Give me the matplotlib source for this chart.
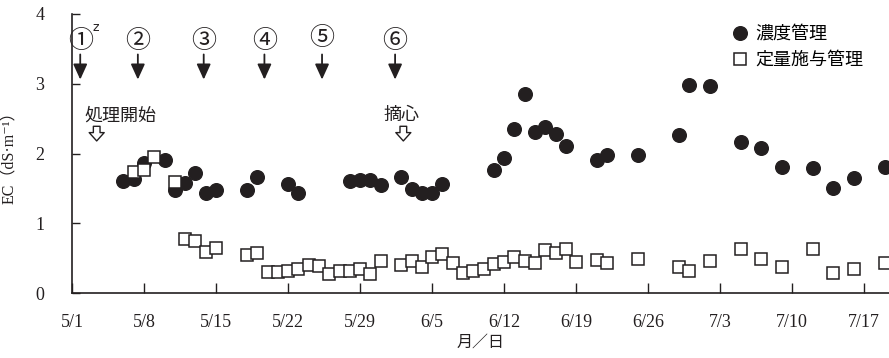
import numpy as np
import pandas as pd
import matplotlib
matplotlib.use("Agg")
import matplotlib.pyplot as plt
from matplotlib.lines import Line2D

FONT = ["Liberation Serif", "DejaVu Serif", "Noto Sans CJK JP"]
plt.rcParams["font.family"] = FONT

START = "2020-05-01"

# 濃度管理 (filled circles)
conc_dates = ["5/6", "5/7", "5/8", "5/10", "5/11", "5/12", "5/13", "5/14", "5/15",
              "5/18", "5/19", "5/22", "5/23", "5/28", "5/29", "5/30", "5/31",
              "6/2", "6/3", "6/4", "6/5", "6/6", "6/11", "6/12", "6/13", "6/14",
              "6/15", "6/16", "6/17", "6/18", "6/21", "6/22", "6/25", "6/29",
              "6/30", "7/2", "7/5", "7/7", "7/9", "7/12", "7/14", "7/16", "7/19"]
conc_ec = [1.60, 1.63, 1.87, 1.90, 1.48, 1.58, 1.72, 1.43, 1.47,
           1.47, 1.66, 1.56, 1.43, 1.61, 1.62, 1.62, 1.55,
           1.67, 1.49, 1.43, 1.43, 1.56, 1.76, 1.93, 2.35, 2.86,
           2.31, 2.38, 2.28, 2.11, 1.90, 1.98, 1.98, 2.26,
           2.98, 2.97, 2.17, 2.08, 1.81, 1.79, 1.50, 1.65, 1.81]

# 定量施与管理 (open squares)
fix_dates = ["5/7", "5/8", "5/9", "5/11", "5/12", "5/13", "5/14", "5/15",
             "5/18", "5/19", "5/20", "5/21", "5/22", "5/23", "5/24", "5/25",
             "5/26", "5/27", "5/28", "5/29", "5/30", "5/31",
             "6/2", "6/3", "6/4", "6/5", "6/6", "6/7", "6/8", "6/9", "6/10",
             "6/11", "6/12", "6/13", "6/14", "6/15", "6/16", "6/17", "6/18",
             "6/19", "6/21", "6/22", "6/25", "6/29", "6/30", "7/2", "7/5",
             "7/7", "7/9", "7/12", "7/14", "7/16", "7/19"]
fix_ec = [1.73, 1.77, 1.95, 1.59, 0.78, 0.74, 0.59, 0.64,
          0.545, 0.58, 0.30, 0.30, 0.32, 0.35, 0.40, 0.38,
          0.27, 0.32, 0.31, 0.34, 0.27, 0.46,
          0.40, 0.46, 0.37, 0.51, 0.56, 0.43, 0.28, 0.32, 0.35,
          0.41, 0.44, 0.51, 0.46, 0.43, 0.61, 0.57, 0.63,
          0.44, 0.47, 0.43, 0.49, 0.37, 0.32, 0.46, 0.63,
          0.49, 0.37, 0.63, 0.28, 0.35, 0.43]

tick_labels = ["5/1", "5/8", "5/15", "5/22", "5/29", "6/5", "6/12",
               "6/19", "6/26", "7/3", "7/10", "7/17"]

# fertilisation events ①-⑥ (days after 5/1)
event_labels = ["①", "②", "③", "④", "⑤", "⑥"]
event_days = [0.8, 6.4, 12.8, 18.7, 24.3, 31.4]

start_day = 2.4     # 処理開始
pinch_day = 32.2    # 摘心


def to_days(labels):
    d = pd.to_datetime(["2020/" + s for s in labels], format="%Y/%m/%d")
    return np.asarray((d - pd.Timestamp(START)).days, dtype=float)


def main() -> None:
    fig = plt.figure(figsize=(8.89, 3.58), dpi=100)
    ax = fig.add_axes([72 / 889, 1 - 293 / 358, 817 / 889, 279 / 358])
    ink = "#231f20"

    ax.plot(to_days(conc_dates), conc_ec, "o", ms=9.8, color=ink, zorder=3)
    ax.plot(to_days(fix_dates), fix_ec, "s", ms=8, mfc="white", mec=ink,
            mew=1.1, zorder=4)

    ax.set_xlim(0, 79.4)
    ax.set_ylim(0, 4)
    ax.set_xticks(to_days(tick_labels))
    ax.set_xticklabels(tick_labels)
    ax.set_yticks([0, 1, 2, 3, 4])
    ax.tick_params(axis="x", direction="in", length=7, width=1, pad=15,
                   labelsize=13, colors=ink)
    ax.tick_params(axis="y", direction="in", length=6, width=1, pad=20,
                   labelsize=13, colors=ink)
    for side in ("top", "right"):
        ax.spines[side].set_visible(False)
    for side in ("left", "bottom"):
        ax.spines[side].set_linewidth(1.2)
        ax.spines[side].set_color(ink)

    ax.set_xlabel("月／日", fontsize=11.5, color=ink, labelpad=2,
                  family=["Noto Sans CJK JP"])
    ax.set_ylabel("EC（dS·m⁻¹）", fontsize=11.5, color=ink, labelpad=12)

    # event markers with filled arrows
    for lab, d in zip(event_labels, event_days):
        y_lab = 3.66 if lab == "⑤" else 3.61
        ax.text(d, y_lab, lab, ha="center", va="center", fontsize=18,
                color=ink, family=["Noto Sans CJK JP"])
        ax.annotate("", xy=(d, 3.06), xytext=(d, 3.42),
                    arrowprops=dict(arrowstyle="-|>,head_length=0.55,head_width=0.25",
                                    mutation_scale=17, color=ink, lw=1.3,
                                    shrinkA=0, shrinkB=0))
    ax.text(event_days[0] + 1.55, 3.8, "z", ha="center", va="center",
            fontsize=9, color=ink, family=["DejaVu Sans"])

    # 処理開始 / 摘心 with hollow arrows
    ax.text(start_day - 1.2, 2.55, "処理開始", ha="left", va="center",
            fontsize=13, color=ink, family=["Noto Sans CJK JP"])
    ax.text(pinch_day - 1.9, 2.55, "摘心", ha="left", va="center",
            fontsize=13, color=ink, family=["Noto Sans CJK JP"])
    for d in (start_day, pinch_day):
        ax.annotate("", xy=(d, 2.18), xytext=(d, 2.39),
                    arrowprops=dict(arrowstyle="simple,head_length=0.5,head_width=0.9,tail_width=0.4",
                                    mutation_scale=12, fc="white", ec=ink, lw=1,
                                    shrinkA=0, shrinkB=0))

    handles = [
        Line2D([], [], ls="none", marker="o", ms=9.8, color=ink),
        Line2D([], [], ls="none", marker="s", ms=8, mfc="white", mec=ink, mew=1.1),
    ]
    fig.legend(handles, ["濃度管理", "定量施与管理"], loc="upper left",
               bbox_to_anchor=(722 / 889, 1 - 16 / 358), frameon=False,
               borderpad=0, handlelength=1.0, handletextpad=0.35,
               labelspacing=0.45, prop={"family": ["Noto Sans CJK JP"], "size": 13})

    fig.savefig("out.png", dpi=100)
    plt.close(fig)


if __name__ == "__main__":
    main()
